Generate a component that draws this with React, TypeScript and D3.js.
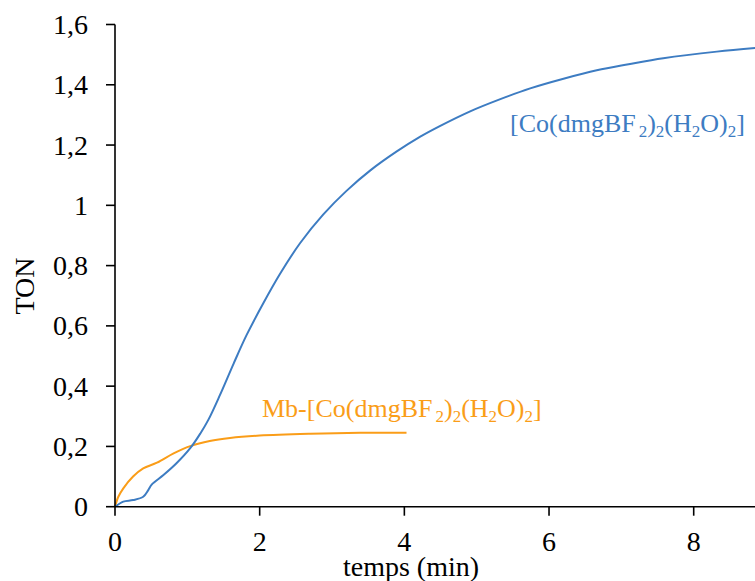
import React from "react";
import * as d3 from "d3";

const blueX = [0, 0.115, 0.25, 0.39, 0.46, 0.51, 0.67, 0.85, 1.04, 1.18, 1.29, 1.45, 1.64, 1.82, 2.05, 2.28, 2.56, 2.88, 3.2, 3.53, 3.89, 4.22, 4.49, 4.91, 5.3, 5.74, 6.2, 6.66, 7.1, 7.58, 8.32, 8.85];
const blueY = [0, 0.017, 0.022, 0.033, 0.055, 0.074, 0.105, 0.144, 0.194, 0.243, 0.288, 0.37, 0.475, 0.57, 0.675, 0.772, 0.875, 0.97, 1.048, 1.116, 1.178, 1.228, 1.263, 1.312, 1.35, 1.388, 1.42, 1.448, 1.468, 1.488, 1.51, 1.522];

const orangeX = [0, 0.046, 0.115, 0.25, 0.39, 0.58, 0.81, 1.04, 1.31, 1.59, 2.0, 2.7, 3.39, 4.03];
const orangeY = [0, 0.033, 0.061, 0.1, 0.127, 0.146, 0.177, 0.201, 0.218, 0.228, 0.236, 0.242, 0.245, 0.245];

const xTicks = [0, 2, 4, 6, 8];
const xTickLabels = ["0", "2", "4", "6", "8"];
const yTicks = [0, 0.2, 0.4, 0.6, 0.8, 1, 1.2, 1.4, 1.6];
const yTickLabels = ["0", "0,2", "0,4", "0,6", "0,8", "1", "1,2", "1,4", "1,6"];

const BLUE = "#3d7cc2";
const ORANGE = "#fa9d18";
const FONT = "'Liberation Serif', 'Times New Roman', serif";

export default function App() {
  const W = 755, H = 581;
  const x = d3.scaleLinear().domain([0, 8]).range([115, 693.7]);
  const y = d3.scaleLinear().domain([0, 1.6]).range([506.7, 24.5]);
  const line = d3.line<[number, number]>()
    .x((d) => x(d[0]))
    .y((d) => y(d[1]))
    .curve(d3.curveCatmullRom.alpha(0.5));
  const blue = blueX.map((v, i) => [v, blueY[i]] as [number, number]);
  const orange = orangeX.map((v, i) => [v, orangeY[i]] as [number, number]);
  const x0 = x(0), y0 = y(0);
  const tick = 9;
  const subSize = 17;
  const formula = (prefix: string) => [
    <tspan key="p">{prefix + "[Co(dmgBF"}</tspan>,
    <tspan key="s1" dy={5} fontSize={subSize} dx={3}>2</tspan>,
    <tspan key="c1" dy={-5}>)</tspan>,
    <tspan key="s2" dy={5} fontSize={subSize}>2</tspan>,
    <tspan key="c2" dy={-5}>(H</tspan>,
    <tspan key="s3" dy={5} fontSize={subSize}>2</tspan>,
    <tspan key="c3" dy={-5}>O)</tspan>,
    <tspan key="s4" dy={5} fontSize={subSize}>2</tspan>,
    <tspan key="c4" dy={-5}>]</tspan>,
  ];
  return (
    <svg width={W} height={H} style={{ position: "absolute", left: 0, top: 0, background: "#fff" }} fontFamily={FONT}>
      <rect x={0} y={0} width={W} height={H} fill="#fff" />
      <path d={line(orange) || ""} fill="none" stroke={ORANGE} strokeWidth={2} />
      <path d={line(blue) || ""} fill="none" stroke={BLUE} strokeWidth={2} />
      <line x1={x0} x2={x0} y1={y(1.6)} y2={y0} stroke="#000" strokeWidth={1.6} />
      <line x1={x0} x2={W} y1={y0} y2={y0} stroke="#000" strokeWidth={1.6} />
      {yTicks.map((t, i) => (
        <g key={"y" + i}>
          <line x1={x0 - tick} x2={x0} y1={y(t)} y2={y(t)} stroke="#000" strokeWidth={1.6} />
          <text x={x0 - 27} y={y(t)} dy="0.34em" textAnchor="end" fontSize={28} fill="#000">{yTickLabels[i]}</text>
        </g>
      ))}
      {xTicks.map((t, i) => (
        <g key={"x" + i}>
          <line x1={x(t)} x2={x(t)} y1={y0} y2={y0 + tick} stroke="#000" strokeWidth={1.6} />
          <text x={x(t)} y={551} textAnchor="middle" fontSize={28} fill="#000">{xTickLabels[i]}</text>
        </g>
      ))}
      <text x={411} y={576} textAnchor="middle" fontSize={28} fill="#000">temps (min)</text>
      <text transform="translate(34,286) rotate(-90)" textAnchor="middle" fontSize={28} fill="#000">TON</text>
      <text x={510} y={131.5} fontSize={26} fill={BLUE}>{formula("")}</text>
      <text x={262} y={417} fontSize={26} fill={ORANGE}>{formula("Mb-")}</text>
    </svg>
  );
}
